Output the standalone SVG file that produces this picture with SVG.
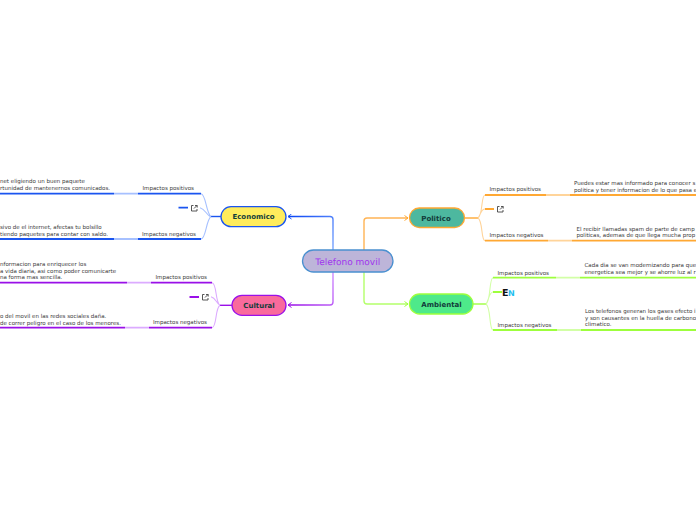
<svg xmlns="http://www.w3.org/2000/svg" width="696" height="520" viewBox="0 0 696 520">
<style>
text{font-family:"DejaVu Sans",sans-serif;fill:#3a3a3a;text-rendering:geometricPrecision}
.t{font-size:5.5px}
.n{font-size:7px;font-weight:bold;fill:#123c3a;text-anchor:middle}
.c{fill:none;stroke-width:1.4}
.h{fill:none;stroke-width:1.8}
.b{fill:none;stroke-width:1.1}
.i{fill:none;stroke:#444;stroke-width:.9}
.r{stroke-width:1.3}
.ec{stroke:#1a55f0}.ecl{stroke:#a6c0ff}
.cu{stroke:#9a10e8}.cul{stroke:#dcabff}
.po{stroke:#ffa833}.pol{stroke:#ffd49a}
.am{stroke:#9dff3d}.aml{stroke:#d2ffa6}
</style>
<defs>
<marker id="aE" markerWidth="6" markerHeight="6" refX="4.5" refY="3" orient="auto" markerUnits="userSpaceOnUse"><path d="M1 .5L4.5 3L1 5.5" fill="none" stroke="#1a55f0" stroke-width="1"/></marker>
<marker id="aC" markerWidth="6" markerHeight="6" refX="4.5" refY="3" orient="auto" markerUnits="userSpaceOnUse"><path d="M1 .5L4.5 3L1 5.5" fill="none" stroke="#9a10e8" stroke-width="1"/></marker>
<marker id="aP" markerWidth="6" markerHeight="6" refX="4.5" refY="3" orient="auto" markerUnits="userSpaceOnUse"><path d="M1 .5L4.5 3L1 5.5" fill="none" stroke="#ffa833" stroke-width="1"/></marker>
<marker id="aA" markerWidth="6" markerHeight="6" refX="4.5" refY="3" orient="auto" markerUnits="userSpaceOnUse"><path d="M1 .5L4.5 3L1 5.5" fill="none" stroke="#9dff3d" stroke-width="1"/></marker>
<linearGradient id="gE" gradientUnits="userSpaceOnUse" x1="333" y1="250" x2="290" y2="216"><stop offset="0" stop-color="#7aa5ff"/><stop offset="1" stop-color="#0a45f5"/></linearGradient>
<linearGradient id="gC" gradientUnits="userSpaceOnUse" x1="333" y1="272" x2="290" y2="305"><stop offset="0" stop-color="#cf8cff"/><stop offset="1" stop-color="#9a10e8"/></linearGradient>
<g id="ic"><path class="i" d="M2.5 .5H.5V6H6V4"/><path class="i" d="M3 3.5L6 .5M4 .5H6.2V2.6"/></g>
</defs>
<g id="connectors">
<path class="c" stroke="url(#gE)" d="M333 250V219.5Q333 216.5 330 216.5H288" marker-end="url(#aE)"/>
<path class="c" stroke="url(#gC)" d="M333 272V302Q333 305 330 305H288" marker-end="url(#aC)"/>
<path class="c" style="stroke:#ffb455" d="M364 250V221Q364 218 367 218H408" marker-end="url(#aP)"/>
<path class="c" style="stroke:#b4ff6b" d="M364 272V301Q364 304 367 304H408" marker-end="url(#aA)"/>

<path class="c ec" d="M221 216.5H211"/>
<path class="b ecl" d="M211 216.5C206 213 206 194 201 193.7M211 216.5C206 220 206 239 201 239M210 216.5C206 214 205 209 200 207.7"/>
<path class="h ec" d="M201 193.7H138M114 193.7H0M201 239H138M114 239H0M178.5 207.7H188"/>
<path class="h ecl" d="M138 193.7H114M138 239H114"/>

<path class="c cu" d="M232 305.3H220"/>
<path class="b cul" d="M220 305.3C215 302 217 283 212 282.7M220 305.3C215 308 217 327 212 327.7M220 305.3C216 303 216 298 211 296.7"/>
<path class="h cu" d="M212 282.7H151M127 282.7H0M212 327.7H149M125 327.7H0M189.5 297H199"/>
<path class="h cul" d="M151 282.7H127M149 327.7H125"/>

<path class="c po" d="M464.5 218H478"/>
<path class="b pol" d="M478 218C483 215 481 195 485 195M478 218C483 221 481 240.7 485 240.7M478 218C481 214 481 209 485 209"/>
<path class="h po" d="M485 195H546M570 195H696M485 240.7H548M572 240.7H696M485 209H494"/>
<path class="h pol" d="M546 195H570M548 240.7H572"/>

<path class="c am" d="M473 304H486"/>
<path class="b aml" d="M486 304C491 301 489 278 493 277.7M486 304C491 307 489 330 493 330M486 304C489 300 489 292 493 292"/>
<path class="h am" d="M493 277.7H556M580 277.7H696M493 330H557M581 330H696M493 292H502"/>
<path class="h aml" d="M556 277.7H580M557 330H581"/>
</g>
<g id="central"><rect class="r" x="302.5" y="250" width="90.5" height="22" rx="11" fill="#bdb5d9" stroke="#4a90d0"/><text x="347.7" y="265" font-size="9" text-anchor="middle" style="fill:#a033ee">Telefono movil</text></g>
<g id="economico"><rect class="r" x="221" y="206.7" width="65" height="20" rx="10" fill="#ffec5c" stroke="#1a55f0"/><text class="n" x="253.5" y="219">Economico</text>
<text class="t" x="142.5" y="190">Impactos positivos</text><text class="t" x="142" y="235.5">Impactos negativos</text>
<text class="t" x="0" y="183">net eligiendo un buen paquete</text><text class="t" x="0" y="190">rtunidad de mantenernos comunicados.</text>
<text class="t" x="0" y="229">sivo de el internet, afectas tu bolsillo</text><text class="t" x="0" y="235.5">tiendo paquetes para contar con saldo.</text>
<use href="#ic" x="191" y="205"/></g>
<g id="cultural"><rect class="r" x="232" y="295.3" width="54" height="20" rx="10" fill="#f96a9c" stroke="#9a10e8"/><text class="n" x="259" y="308">Cultural</text>
<text class="t" x="155.5" y="279">Impactos positivos</text><text class="t" x="153" y="324">Impactos negativos</text>
<text class="t" x="0" y="266">nformacion para enriquecer los</text><text class="t" x="0" y="272.5">a vida diaria, asi como poder comunicarte</text><text class="t" x="0" y="279">na forma mas sencilla.</text>
<text class="t" x="0" y="318">o del movil en las redes sociales daña.</text><text class="t" x="0" y="324.5">de correr peligro en el caso de los menores.</text>
<use href="#ic" x="202" y="294"/></g>
<g id="politico"><rect class="r" x="409.5" y="208" width="55" height="19.5" rx="9.7" fill="#4db89f" stroke="#ffa833"/><text class="n" x="436" y="221">Politico</text>
<text class="t" x="489.5" y="191">Impactos positivos</text><text class="t" x="489.5" y="237">Impactos negativos</text>
<text class="t" x="574" y="185">Puedes estar mas informado para conocer s</text><text class="t" x="574" y="191.5">politica y tener informacion de lo que pasa e</text>
<text class="t" x="576.5" y="230.5">El recibir llamadas spam de parte de camp</text><text class="t" x="576.5" y="237">politicas, ademas de que llega mucha prop</text>
<use href="#ic" x="497" y="206"/></g>
<g id="ambiental"><rect class="r" x="409.5" y="294" width="63.5" height="20" rx="10" fill="#4ee98a" stroke="#9dff3d"/><text class="n" x="441.5" y="307">Ambiental</text>
<text class="t" x="497.5" y="274.5">Impactos positivos</text><text class="t" x="497.5" y="326.5">Impactos negativos</text>
<text class="t" x="584.5" y="267">Cada dia se van modernizando para que</text><text class="t" x="584.5" y="273.5">energetica sea mejor y se ahorre luz al r</text>
<text class="t" x="585" y="313">Los telefonos generan los gases efecto i</text><text class="t" x="585" y="319.5">y son causantes en la huella de carbono</text><text class="t" x="585" y="326">climatico.</text>
<text x="502" y="296" font-size="9.5" font-weight="bold" style="fill:#111">E</text><text x="508" y="296" font-size="8" font-weight="bold" style="fill:#1fc0f0">N</text></g>
</svg>
